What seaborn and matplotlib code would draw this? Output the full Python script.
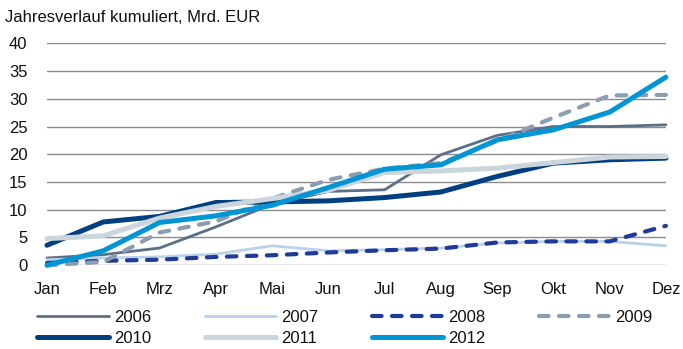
import matplotlib
matplotlib.use("Agg")
import matplotlib.pyplot as plt
import seaborn as sns
import pandas as pd

# Monthly cumulative values, bn EUR
months = ["Jan", "Feb", "Mrz", "Apr", "Mai", "Jun", "Jul", "Aug", "Sep", "Okt", "Nov", "Dez"]
y2006 = [1.3, 1.9, 3.1, 6.9, 11.0, 13.3, 13.6, 19.9, 23.4, 25.0, 25.0, 25.3]
y2007 = [1.0, 1.3, 1.5, 2.0, 3.5, 2.6, 2.8, 3.1, 4.0, 4.3, 4.3, 3.5]
y2008 = [0.4, 0.8, 1.0, 1.5, 1.8, 2.3, 2.7, 3.0, 4.1, 4.3, 4.3, 7.1]
y2009 = [0.0, 0.6, 5.9, 7.9, 12.0, 15.4, 17.4, 18.4, 22.4, 26.6, 30.6, 30.7]
y2010 = [3.6, 7.8, 8.8, 11.3, 11.4, 11.6, 12.2, 13.2, 16.0, 18.4, 19.0, 19.3]
y2011 = [4.8, 5.3, 8.5, 10.6, 12.0, 13.5, 16.7, 17.0, 17.5, 18.5, 19.5, 19.6]
y2012 = [0.0, 2.6, 7.7, 8.9, 10.8, 14.0, 17.3, 18.1, 22.6, 24.4, 27.6, 33.9]

years = ["2006", "2007", "2008", "2009", "2010", "2011", "2012"]
series = [y2006, y2007, y2008, y2009, y2010, y2011, y2012]
y_ticks = [0, 5, 10, 15, 20, 25, 30, 35, 40]

colors = ["#5b7086", "#b9d2ec", "#1f3a98", "#8c9db0", "#004081", "#ccd4dc", "#0095d5"]
widths = [2.0, 2.0, 3.0, 3.0, 3.6, 3.6, 3.6]
dashes = [None, None, (2.3, 2.5), (2.3, 2.5), None, None, None]

df = pd.DataFrame({
    "month": list(range(len(months))) * len(years),
    "value": [v for s in series for v in s],
    "year": [y for y, s in zip(years, series) for _ in s],
})

sns.set_style("white")
plt.rcParams["font.family"] = ["Liberation Sans", "DejaVu Sans"]

fig = plt.figure(figsize=(6.83, 3.49), dpi=100)
ax = fig.add_axes([0.0688, 0.24, 0.9062, 0.636])

handles = []
for yr, col, lw, ds in zip(years, colors, widths, dashes):
    sub = df[df["year"] == yr]
    sns.lineplot(data=sub, x="month", y="value", ax=ax, color=col,
                 linewidth=lw, legend=False, zorder=3)
    line = ax.lines[-1]
    line.set_solid_capstyle("round")
    line.set_dash_capstyle("round")
    line.set_clip_on(False)
    if ds is not None:
        line.set_dashes(ds)
    handles.append(line)

ax.set_xlim(0, 11)
ax.set_ylim(0, 40)
ax.set_xticks(range(len(months)))
ax.set_xticklabels(months)
ax.set_yticks(y_ticks)
ax.set_yticklabels([str(t) for t in y_ticks])
ax.set_xlabel("")
ax.set_ylabel("")
ax.tick_params(axis="x", length=0, pad=12, labelsize=12, colors="#111111")
ax.tick_params(axis="y", length=0, pad=14, labelsize=12, colors="#111111")
for sp in ax.spines.values():
    sp.set_visible(False)
ax.grid(axis="y", color="#8c8c8c", linewidth=1.0, zorder=0)
ax.grid(axis="x", visible=False)
ax.set_axisbelow(True)

fig.text(0.007, 0.95, "Jahresverlauf kumuliert, Mrd. EUR", fontsize=12,
         ha="left", va="center", color="#111111")

# legend filled row by row: 2006-2009 on top, 2010-2012 below
order = [0, 4, 1, 5, 2, 6, 3]
leg = fig.legend([handles[i] for i in order], [years[i] for i in order],
                 ncol=4, loc="upper left", bbox_to_anchor=(0.045, 0.13),
                 frameon=False, fontsize=12, handlelength=4.3,
                 handletextpad=0.3, columnspacing=3.2, labelspacing=0.33,
                 borderaxespad=0)
for t in leg.get_texts():
    t.set_color("#111111")

fig.savefig("out.png", dpi=100)
